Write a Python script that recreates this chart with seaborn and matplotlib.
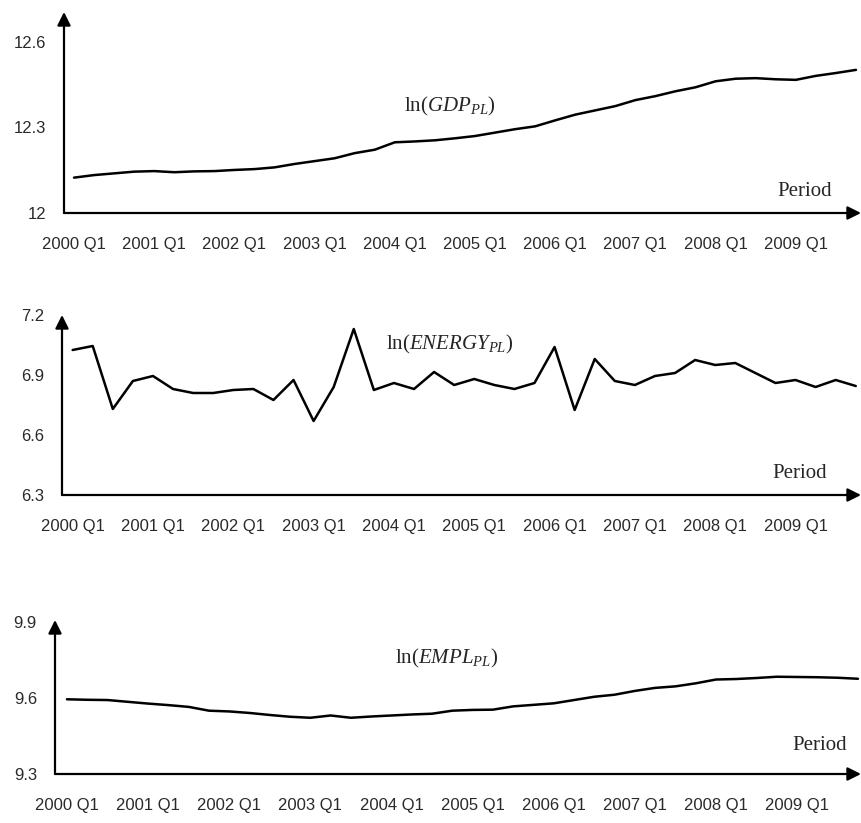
import numpy as np
import pandas as pd
import matplotlib
matplotlib.use("Agg")
import matplotlib.pyplot as plt
import seaborn as sns

# ==========================================
# Data (quarterly, 2000 Q1 - 2009 Q4)
# ==========================================

quarters = np.arange(40)
tick_pos = np.arange(0, 40, 4)
tick_labels = [f"{2000 + i} Q1" for i in range(10)]

gdp_pl = [12.124, 12.133, 12.139, 12.145, 12.147, 12.143, 12.146, 12.147, 12.151, 12.154,
          12.160, 12.172, 12.182, 12.192, 12.210, 12.222, 12.248, 12.251, 12.255, 12.262,
          12.270, 12.282, 12.294, 12.304, 12.325, 12.345, 12.360, 12.375, 12.396, 12.410,
          12.427, 12.441, 12.462, 12.471, 12.473, 12.469, 12.467, 12.481, 12.491, 12.502]

energy_pl = [7.025, 7.045, 6.730, 6.870, 6.895, 6.830, 6.810, 6.810, 6.825, 6.830,
             6.775, 6.875, 6.670, 6.840, 7.130, 6.825, 6.860, 6.830, 6.915, 6.850,
             6.880, 6.850, 6.830, 6.860, 7.040, 6.725, 6.980, 6.870, 6.850, 6.895,
             6.910, 6.975, 6.950, 6.960, 6.910, 6.860, 6.875, 6.840, 6.875, 6.845]

empl_pl = [9.595, 9.593, 9.592, 9.585, 9.578, 9.572, 9.565, 9.550, 9.547, 9.541,
           9.533, 9.526, 9.522, 9.531, 9.522, 9.527, 9.531, 9.535, 9.538, 9.550,
           9.553, 9.554, 9.567, 9.573, 9.579, 9.592, 9.605, 9.613, 9.628, 9.640,
           9.646, 9.658, 9.673, 9.675, 9.679, 9.684, 9.683, 9.682, 9.680, 9.676]

# ==========================================
# Style
# ==========================================

sns.set_style("white")
plt.rcParams['font.family'] = ['Liberation Sans', 'DejaVu Sans']
plt.rcParams['mathtext.fontset'] = 'custom'
plt.rcParams['mathtext.rm'] = 'Liberation Serif'
plt.rcParams['mathtext.it'] = 'Liberation Serif:italic'
plt.rcParams['mathtext.bf'] = 'Liberation Serif:bold'

W, H = 862, 823
fig = plt.figure(figsize=(W / 100, H / 100), dpi=100)

# pixel boxes: (left, top, right, bottom), y-limits, x-limits, label positions
panels = [
    dict(series=gdp_pl, box=(64, 12, 861, 213), ylim=(12, 12.705), xlim=(-0.50, 39.25),
         yticks=[12, 12.3, 12.6], yticklabels=["12", "12.3", "12.6"],
         label=r"$\mathrm{ln}(\mathit{GDP}_{\mathit{PL}})$", label_xy=(450, 106),
         period_xy=(805, 192)),
    dict(series=energy_pl, box=(62, 315, 861, 495), ylim=(6.3, 7.2), xlim=(-0.53, 39.26),
         yticks=[6.3, 6.6, 6.9, 7.2], yticklabels=["6.3", "6.6", "6.9", "7.2"],
         label=r"$\mathrm{ln}(\mathit{ENERGY}_{\mathit{PL}})$", label_xy=(450, 344),
         period_xy=(800, 473)),
    dict(series=empl_pl, box=(55, 620, 861, 774), ylim=(9.3, 9.908), xlim=(-0.59, 39.15),
         yticks=[9.3, 9.6, 9.9], yticklabels=["9.3", "9.6", "9.9"],
         label=r"$\mathrm{ln}(\mathit{EMPL}_{\mathit{PL}})$", label_xy=(447, 658),
         period_xy=(820, 746)),
]

for p in panels:
    l, t, r, b = p['box']
    ax = fig.add_axes([l / W, (H - b) / H, (r - l) / W, (b - t) / H])
    df = pd.DataFrame({'Quarter': quarters, 'Value': p['series']})
    sns.lineplot(data=df, x='Quarter', y='Value', color='black', lw=1.8, ax=ax)

    ax.set_xlim(*p['xlim'])
    ax.set_ylim(*p['ylim'])
    ax.set_xticks(tick_pos)
    ax.set_xticklabels(tick_labels)
    ax.set_yticks(p['yticks'])
    ax.set_yticklabels(p['yticklabels'])
    ax.tick_params(axis='x', length=0, pad=17.5, labelsize=12, colors='#2a2a2a')
    ax.tick_params(axis='y', length=0, pad=13, labelsize=12, colors='#2a2a2a')
    ax.set_xlabel("")
    ax.set_ylabel("")
    for s in ax.spines.values():
        s.set_visible(False)

    # axis arrows
    arrow = dict(arrowstyle='-|>', color='black', lw=1.6, mutation_scale=20,
                 shrinkA=0, shrinkB=0)
    ax.annotate('', xy=(1, 0), xytext=(0, 0), xycoords='axes fraction',
                arrowprops=arrow, annotation_clip=False)
    ax.annotate('', xy=(0, 1), xytext=(0, 0), xycoords='axes fraction',
                arrowprops=arrow, annotation_clip=False)

    lx, ly = p['label_xy']
    fig.text(lx / W, 1 - ly / H, p['label'], ha='center', va='center', fontsize=15)
    px, py = p['period_xy']
    fig.text(px / W, 1 - py / H, "Period", ha='center', va='center', fontsize=15,
             family='Liberation Serif')

fig.savefig("out.png", dpi=100)
